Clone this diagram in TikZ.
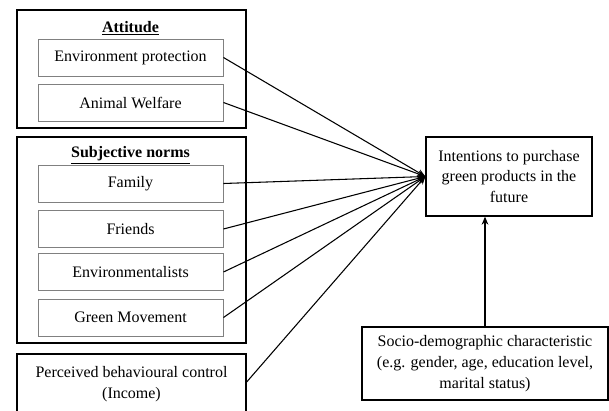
\documentclass[tikz,border=0pt]{standalone}
\usepackage{fontspec}
\setmainfont{Liberation Serif}
\usepackage{tikz}
\usetikzlibrary{arrows.meta}
\usetikzlibrary{positioning}

\tikzset{
  factor/.style={draw=gray, line width=0.7pt, minimum width=138.75pt, minimum height=27.75pt, inner sep=2pt},
  group/.style={draw, line width=1pt},
  mainbox/.style={draw, line width=1pt, align=center, inner sep=2pt},
  link/.style={line width=0.8pt, -{Stealth[length=6pt,width=5pt]}}
}

\begin{document}
\begin{tikzpicture}[x=0.75pt, y=-0.75pt, font=\fontsize{12}{15.5}\selectfont]
  \useasboundingbox (0,0) rectangle (609,410);

  % groups
  \draw[group] (17,10) rectangle (246,128);
  \draw[group] (17,137) rectangle (246,343);
  \node (attTitle) at (130.5,28) {\underline{\textbf{Attitude}}};
  \node (snTitle)  at (130.5,155) {\underline{\textbf{Subjective norms}}};

  % factors
  \node[factor] (envProt)  at (130.5,57.5)  {Environment protection};
  \node[factor] (animal)   at (130.5,102.5) {Animal Welfare};
  \node[factor] (family)   at (130.5,183.5) {Family};
  \node[factor] (friends)  at (130.5,229)   {Friends};
  \node[factor] (envists)  at (130.5,272)   {Environmentalists};
  \node[factor] (greenMov) at (130.5,317.5) {Green Movement};

  \node[mainbox, minimum width=171.75pt, minimum height=45pt] (pbc) at (131.5,384)
    {Perceived behavioural control\\(Income)};
  \node[mainbox, minimum width=124.5pt, minimum height=59.25pt] (intent) at (509,176.5)
    {Intentions to purchase\\green products in the\\future};
  \node[mainbox, minimum width=184.5pt, minimum height=54.75pt] (socio) at (485,363.5)
    {Socio-demographic characteristic\\(e.g. gender, age, education level,\\marital status)};

  % links
  \coordinate (meet) at (intent.west);
  \foreach \src in {envProt, animal, family, friends, envists, greenMov}
    \draw[link] (\src.east) -- (meet);
  \draw[link] ([yshift=1.5pt]pbc.east) -- (meet);
  \draw[link] (socio.north) -- (socio.north |- intent.south);
\end{tikzpicture}
\end{document}
